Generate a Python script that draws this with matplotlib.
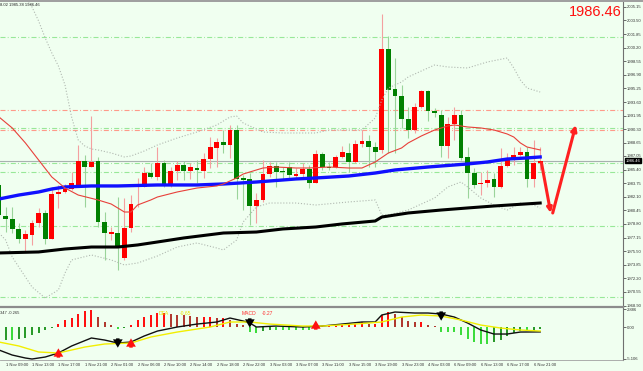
import numpy as np
import matplotlib.pyplot as plt
import matplotlib.transforms as mtrans
from matplotlib.patches import Rectangle

plt.rcParams['font.family'] = ['Liberation Sans', 'DejaVu Sans']

# ---- candles (H1) ----
opens = [1983.53, 1979.77, 1979.40, 1978.19, 1976.97, 1977.46, 1978.92, 1980.13, 1976.97, 1982.44,
         1982.68, 1983.04, 1983.29, 1986.44, 1985.71, 1986.44, 1979.04, 1977.58, 1977.70, 1974.67,
         1978.31, 1983.29, 1983.29, 1984.98, 1984.50, 1986.20, 1983.65, 1985.23, 1985.96, 1985.23,
         1985.59, 1985.23, 1986.68, 1988.02, 1988.75, 1988.38, 1990.20, 1984.38, 1984.26, 1980.98,
         1981.71, 1984.86, 1985.83, 1985.23, 1985.71, 1984.62, 1984.86, 1985.47, 1983.77, 1987.29,
         1985.71, 1985.71, 1986.93, 1987.41, 1986.32, 1988.50, 1988.87, 1988.14, 1987.78, 2000.03,
         1995.18, 1994.33, 1991.54, 1990.20, 1992.99, 1994.94, 1992.51, 1992.02, 1988.26, 1990.93,
         1992.02, 1986.93, 1984.98, 1983.65, 1983.77, 1984.26, 1983.29, 1985.83, 1986.81, 1987.17,
         1987.53, 1984.26, 1986.20]
highs = [1983.77, 1980.86, 1980.86, 1978.92, 1978.07, 1979.28, 1980.74, 1980.49, 1983.29, 1983.53,
         1983.65, 1985.11, 1988.38, 1987.17, 1991.90, 1986.93, 1980.25, 1978.43, 1982.07, 1981.95,
         1982.31, 1984.38, 1985.71, 1986.20, 1988.14, 1986.56, 1985.71, 1986.44, 1986.44, 1986.20,
         1986.56, 1987.41, 1989.35, 1989.23, 1990.20, 1990.81, 1990.81, 1984.74, 1984.98, 1982.56,
         1986.56, 1986.32, 1986.32, 1985.71, 1986.32, 1985.59, 1986.20, 1985.96, 1987.78, 1987.53,
         1986.32, 1987.17, 1988.26, 1988.63, 1988.99, 1990.20, 1989.60, 1988.75, 2004.28, 2001.61,
         1998.94, 1995.66, 1992.99, 1993.48, 1995.06, 1995.06, 1992.87, 1992.63, 1991.78, 1992.99,
         1992.63, 1988.14, 1985.59, 1985.11, 1985.35, 1984.98, 1988.02, 1987.41, 1988.14, 1988.14,
         1988.14, 1988.99, 1988.14]
lows = [1979.52, 1977.82, 1977.70, 1976.49, 1975.40, 1976.25, 1978.43, 1976.37, 1976.97, 1980.74,
        1982.56, 1982.92, 1983.29, 1980.86, 1985.71, 1978.43, 1974.43, 1976.85, 1973.21, 1974.43,
        1977.82, 1980.86, 1983.29, 1984.38, 1984.14, 1983.29, 1983.29, 1984.14, 1984.14, 1984.26,
        1983.77, 1984.38, 1985.59, 1985.71, 1987.41, 1986.81, 1981.83, 1980.49, 1978.67, 1978.92,
        1981.47, 1984.50, 1983.29, 1984.14, 1984.14, 1984.38, 1984.50, 1983.16, 1983.77, 1985.35,
        1985.35, 1985.59, 1986.81, 1985.11, 1986.20, 1988.14, 1985.71, 1985.71, 1987.41, 1987.41,
        1987.41, 1990.45, 1989.23, 1989.84, 1992.87, 1991.30, 1991.78, 1986.93, 1986.81, 1988.99,
        1986.56, 1981.95, 1983.16, 1982.31, 1983.29, 1982.07, 1983.16, 1985.71, 1985.96, 1987.05,
        1983.29, 1983.29, 1985.35]
closes = [1979.89, 1979.40, 1978.19, 1976.97, 1977.58, 1978.92, 1980.13, 1976.97, 1982.44, 1982.68,
          1983.04, 1983.77, 1986.44, 1985.71, 1986.32, 1979.04, 1977.70, 1977.82, 1976.00, 1978.31,
          1981.22, 1983.65, 1984.98, 1984.50, 1986.20, 1983.65, 1985.23, 1985.96, 1985.23, 1985.71,
          1985.35, 1986.68, 1988.14, 1988.75, 1988.38, 1990.20, 1984.26, 1984.14, 1980.98, 1981.71,
          1984.86, 1985.83, 1985.11, 1985.11, 1984.74, 1984.86, 1985.47, 1983.77, 1987.29, 1985.71,
          1985.59, 1986.93, 1987.53, 1986.32, 1988.50, 1988.87, 1988.14, 1987.53, 2000.03, 1995.06,
          1994.33, 1991.54, 1990.20, 1992.99, 1994.94, 1992.51, 1992.27, 1988.26, 1990.93, 1992.02,
          1986.81, 1984.98, 1983.53, 1983.77, 1984.14, 1983.29, 1985.83, 1986.56, 1987.17, 1987.53,
          1984.26, 1986.20, 1986.46]
last_price = 1986.46

# ---- moving averages / bands (bar index, price) ----
red_ma_idx = [0, 2, 4, 6, 8, 10, 12, 15, 17, 19, 20, 21, 23, 24, 27, 30, 33, 34, 36, 37, 39, 40,
              42, 45, 47, 50, 53, 55, 57, 59, 61, 62, 64, 66, 68, 69, 71, 73, 75, 77, 78, 79, 80, 82]
red_ma = [1991.78, 1990.45, 1988.63, 1986.56, 1984.50, 1983.16, 1982.31, 1981.71, 1981.22, 1980.25,
          1980.25, 1981.10, 1981.71, 1982.07, 1982.68, 1983.16, 1983.41, 1983.65, 1984.38, 1984.86,
          1985.35, 1985.59, 1985.71, 1985.59, 1985.59, 1985.71, 1985.59, 1985.59, 1986.32, 1987.41,
          1988.02, 1988.63, 1989.48, 1990.20, 1990.69, 1990.81, 1990.57, 1990.45, 1990.20, 1989.72,
          1989.35, 1988.63, 1988.14, 1987.78]
blue_idx = [0, 3, 6, 8, 10, 14, 18, 24, 30, 34, 39, 45, 48, 53, 57, 60, 65, 71, 74, 77, 80, 82]
blue_ma = [1981.83, 1982.31, 1982.68, 1983.04, 1983.29, 1983.41, 1983.41, 1983.53, 1983.53, 1983.65,
           1983.89, 1984.26, 1984.38, 1984.62, 1984.98, 1985.35, 1985.71, 1986.08, 1986.32, 1986.68,
           1986.81, 1986.93]
black_idx = [0, 6, 10, 14, 18, 21, 24, 28, 34, 39, 43, 48, 52, 57, 58, 62, 67, 71, 75, 82]
black_ma = [1975.28, 1975.40, 1975.76, 1976.00, 1976.00, 1976.25, 1976.61, 1977.10, 1977.70, 1977.82,
            1978.19, 1978.43, 1978.80, 1979.16, 1979.64, 1980.13, 1980.49, 1980.74, 1980.98, 1981.34]
upper_idx = [4, 5, 6, 7, 8, 9, 10, 11, 12, 13, 14, 15, 17, 19, 20, 22, 24, 27, 30, 33, 35, 36, 37, 40,
             43, 48, 50, 55, 57, 58, 59, 61, 62, 66, 68, 71, 74, 77, 78, 79, 80, 82]
upper_band = [2006.40, 2005.13, 2003.43, 2001.37, 1999.55, 1997.97, 1995.66, 1991.78, 1988.99, 1988.26,
              1987.90, 1987.78, 1987.41, 1986.93, 1987.05, 1987.65, 1988.38, 1989.23, 1989.96, 1990.81,
              1991.78, 1991.90, 1991.05, 1989.96, 1989.84, 1989.84, 1990.20, 1990.20, 1991.66, 1993.84,
              1995.30, 1996.03, 1996.64, 1998.09, 1997.85, 1997.73, 1998.46, 1998.94, 1997.73, 1996.27,
              1995.30, 1994.81]
lower_idx = [0, 1, 2, 5, 7, 9, 10, 11, 14, 17, 19, 21, 24, 27, 30, 33, 34, 36, 37, 39, 41, 45, 48, 53,
             57, 58, 59, 62, 66, 68, 70, 71, 73, 75, 77, 79, 81, 82]
lower_band = [1977.70, 1976.85, 1974.79, 1971.15, 1969.81, 1970.79, 1972.85, 1974.43, 1975.03, 1974.43,
              1973.82, 1974.06, 1974.91, 1976.00, 1976.49, 1975.88, 1975.64, 1976.85, 1979.04, 1980.86,
              1981.34, 1981.34, 1981.10, 1981.47, 1981.71, 1979.89, 1979.89, 1980.49, 1981.95, 1983.29,
              1983.89, 1983.29, 1981.95, 1981.10, 1980.49, 1981.34, 1981.10, 1980.74]
green_levels = [2001.43, 1990.45, 1986.20, 1985.11, 1978.55, 1969.94]
red_levels = [1992.63, 1990.20]

# forecast arrow (bar index, price)
arrow_idx = [82.2, 83.6, 87.4]
arrow_px = [1986.20, 1980.13, 1990.81]

# ---- MACD panel ----
hist = [-2.2, -2.15, -2.15, -1.9, -1.7, -1.35, -1.0, -0.55, -0.15, 0.55,
        1.1, 1.5, 2.15, 2.6, 2.7, 1.6, 0.8, 0.3, -0.27, -0.16,
        0.4, 1.1, 1.6, 2.0, 2.25, 2.25, 2.15, 2.0, 1.9, 1.7,
        1.6, 1.6, 1.6, 1.5, 1.5, 1.1, 0.55, 0.4, -0.8, -1.0,
        -0.65, -0.4, -0.4, -0.4, -0.4, -0.4, -0.4, -0.4, -0.35, 0.2,
        0.2, 0.2, 0.3, 0.4, 0.55, 0.8, 0.55, 0.55, 1.9, 2.4,
        2.15, 1.6, 0.9, 0.8, 0.8, 0.4, 0.1, -0.8, -0.8, -0.8,
        -1.35, -1.9, -2.4, -2.7, -2.7, -2.4, -2.15, -1.5, -1.0, -0.65,
        -0.7, -0.65, -0.27]
dif_idx = [0, 2, 4, 5, 7, 9, 11, 14, 16, 18, 20, 22, 24, 27, 30, 33, 35, 37, 38, 39,
           42, 46, 49, 52, 55, 57, 58, 60, 63, 65, 67, 69, 71, 73, 75, 77, 79, 82]
dif = [-3.71, -4.52, -5.0, -5.16, -4.84, -4.19, -3.06, -1.77, -2.10, -2.58,
       -2.42, -1.45, -0.65, 0.0, 0.48, 0.81, 1.45, 0.97, 0.65, 0.0,
       0.16, 0.0, 0.16, 0.48, 0.81, 0.81, 1.94, 2.42, 2.26, 2.26,
       2.10, 1.61, 0.65, -0.48, -1.13, -1.13, -0.81, -0.79]
dea_idx = [0, 3, 6, 9, 13, 16, 20, 23, 27, 32, 35, 38, 41, 46, 49, 54, 58, 61, 64, 67, 70, 73, 76, 79, 82]
dea = [-2.42, -3.06, -4.03, -4.19, -3.23, -2.74, -2.58, -1.61, -0.81, 0.0, 0.81, 0.81, 0.48,
       0.16, 0.16, 0.48, 0.81, 1.61, 1.94, 1.77, 1.13, 0.32, -0.16, -0.48, -0.65]
buy_idx = [9, 20, 48]
buy_val = [-4.19, -2.58, 0.32]
sell_idx = [18, 38, 67]
sell_val = [-2.58, 0.65, 1.77]

price_ticks = [2005.15, 2003.50, 2001.85, 2000.20, 1998.55, 1996.90, 1995.25, 1993.60, 1991.95,
               1990.30, 1988.65, 1987.05, 1985.40, 1983.75, 1982.10, 1980.45, 1978.80, 1977.15,
               1975.50, 1973.85, 1972.20, 1970.55, 1968.90]
macd_ticks = [2.886, 0.0, -5.106]
macd_labels = ['2.886', '0.00', '-5.106']
date_idx = [1, 5, 9, 13, 17, 21, 25, 29, 33, 37, 41, 45, 49, 53, 57, 61, 65, 69, 73, 77, 81]
date_labels = ['1 Nov 09:00', '1 Nov 13:00', '1 Nov 17:00', '1 Nov 21:00', '2 Nov 01:00',
               '2 Nov 06:00', '2 Nov 10:00', '2 Nov 14:00', '2 Nov 18:00', '2 Nov 22:00',
               '3 Nov 03:00', '3 Nov 07:00', '3 Nov 11:00', '3 Nov 15:00', '3 Nov 19:00',
               '3 Nov 23:00', '4 Nov 03:00', '6 Nov 09:00', '6 Nov 13:00', '6 Nov 17:00',
               '6 Nov 21:00']

W, H = 643, 371
bg = '#F0FFF0'
fig = plt.figure(figsize=(W / 100, H / 100), dpi=100)
fig.patch.set_facecolor(bg)


def px_box(x0, y0, x1, y1):
    return [x0 / W, 1 - y1 / H, (x1 - x0) / W, (y1 - y0) / H]


ax = fig.add_axes(px_box(0, 0, 623, 307))
mx = fig.add_axes(px_box(0, 307, 623, 360), sharex=ax)
for a in (ax, mx):
    a.set_facecolor(bg)
    for s in ('top', 'left', 'bottom'):
        a.spines[s].set_visible(False)
    a.spines['right'].set_color('#707070')
    a.spines['right'].set_linewidth(0.8)
    a.yaxis.tick_right()
    a.tick_params(axis='y', length=2, width=0.5, labelsize=3, pad=1, colors='#303030')
    a.tick_params(axis='x', length=0, labelbottom=False)
mx.spines['top'].set_visible(True)
mx.spines['top'].set_color('#8c8c8c')
mx.spines['top'].set_linewidth(1.6)
mx.spines['bottom'].set_visible(True)
mx.spines['bottom'].set_color('#a0a0a0')
mx.spines['bottom'].set_linewidth(0.6)

ax.set_xlim(0.15, 94.55)
ax.set_ylim(1968.72, 2005.98)
mx.set_ylim(-5.32, 3.23)
ax.set_yticks(price_ticks)
ax.set_yticklabels([f'{t:.2f}' for t in price_ticks])
mx.set_yticks(macd_ticks)
mx.set_yticklabels(macd_labels)

# level lines
dd = [4.5, 2, 0.8, 2]
for lv in green_levels:
    ax.axhline(lv, color='#98E898', lw=0.8, dashes=dd, zorder=1)
for lv in red_levels:
    ax.axhline(lv, color='#FF9A8A', lw=0.8, dashes=dd, zorder=1)
ax.axhline(last_price, color='#A8B0B0', lw=0.8, zorder=1)

# candles
idx = np.arange(len(opens))
o, h, l, c = map(np.array, (opens, highs, lows, closes))
up = c >= o
ax.vlines(idx, l, h, colors=np.where(up, '#F4A0A0', '#9AD49A'), lw=0.8, zorder=2)
ax.bar(idx, np.maximum(np.abs(c - o), 0.1), bottom=np.minimum(o, c), width=0.75,
       color=np.where(up, '#FF0000', '#008000'), linewidth=0, zorder=3)

# bands and moving averages
ax.plot(upper_idx, upper_band, color='#B0B8B0', lw=0.8, ls=':', zorder=4)
ax.plot(lower_idx, lower_band, color='#B0B8B0', lw=0.8, ls=':', zorder=4)
ax.plot(black_idx, black_ma, color='black', lw=2.2, zorder=5)
ax.plot(blue_idx, blue_ma, color='#1010FF', lw=2.4, zorder=5)
ax.plot(red_ma_idx, red_ma, color='#E8403A', lw=0.8, zorder=5)

# forecast arrow
ax.annotate('', xy=(arrow_idx[1], arrow_px[1]), xytext=(arrow_idx[0], arrow_px[0]),
            arrowprops=dict(arrowstyle='-|>', color='#FF2020', lw=2.2, mutation_scale=7,
                            shrinkA=0, shrinkB=0), zorder=6)
ax.annotate('', xy=(arrow_idx[2], arrow_px[2]), xytext=(arrow_idx[1] + 0.3, arrow_px[1]),
            arrowprops=dict(arrowstyle='-|>', color='#FF2020', lw=2.2, mutation_scale=8,
                            shrinkA=0, shrinkB=0), zorder=6)

# current price box on the axis
tr = mtrans.blended_transform_factory(ax.transAxes, ax.transData)
ax.text(1.004, last_price, f'{last_price:.2f}', transform=tr, fontsize=3, color='white',
        va='center', ha='left', bbox=dict(boxstyle='square,pad=0.15', fc='black', ec='black'),
        zorder=7, clip_on=False)

# MACD histogram and lines
hv = np.array(hist)
prev = np.concatenate([[hv[0]], hv[:-1]])
cols = np.where(hv >= 0, np.where(hv >= prev, '#FF1010', '#B03A30'),
                np.where(hv <= prev, '#3CDC3C', '#2A9A2A'))
mx.bar(idx, hv, width=0.32, color=cols, linewidth=0, zorder=2)
mx.plot(dif_idx, dif, color='#101010', lw=1.0, zorder=3)
mx.plot(dea_idx, dea, color='#F2EE00', lw=1.0, zorder=3)
for i, v in zip(buy_idx, buy_val):
    mx.annotate('', xy=(i, v + 0.75), xytext=(i, v - 0.75),
                arrowprops=dict(arrowstyle='simple,head_width=0.7,head_length=0.6,tail_width=0.25',
                                color='#FF1010', lw=0, shrinkA=0, shrinkB=0), zorder=4)
for i, v in zip(sell_idx, sell_val):
    mx.annotate('', xy=(i, v - 0.75), xytext=(i, v + 0.75),
                arrowprops=dict(arrowstyle='simple,head_width=0.7,head_length=0.6,tail_width=0.25',
                                color='black', lw=0, shrinkA=0, shrinkB=0), zorder=4)

mtr = mtrans.blended_transform_factory(mx.transData, mx.transAxes)
mx.text(0.2, 0.93, '347 -0.265', transform=mtr, fontsize=3, color='#303030', va='top')
mx.text(24.2, 0.93, 'DEA', transform=mtr, fontsize=3.6, color='#E8E400', va='top')
mx.text(27.4, 0.93, '-0.65', transform=mtr, fontsize=3.6, color='#E8E400', va='top')
mx.text(36.8, 0.93, 'MACD', transform=mtr, fontsize=3.6, color='#FF3030', va='top')
mx.text(39.8, 0.93, '-0.27', transform=mtr, fontsize=3.6, color='#FF3030', va='top')

# time axis labels
for i, lab in zip(date_idx, date_labels):
    mx.text(i, -0.09, lab, transform=mtr, fontsize=3, color='#303030', ha='left', va='center',
            clip_on=False)

# window chrome and quote text
fig.patches.append(Rectangle((0, 1 - 2 / H), 1, 2 / H, transform=fig.transFigure,
                             facecolor='#A0A0A0', edgecolor='none'))
fig.text(0.5 / W, 1 - 5 / H, '8.02 1985.38 1986.46', fontsize=3, color='#202020',
         ha='left', va='center')
fig.text(622 / W, 1 - 12.5 / H, f'{last_price:.2f}', fontsize=10.5, color='#FF1010',
         ha='right', va='center')

plt.savefig('out.png', dpi=100, facecolor=bg)
